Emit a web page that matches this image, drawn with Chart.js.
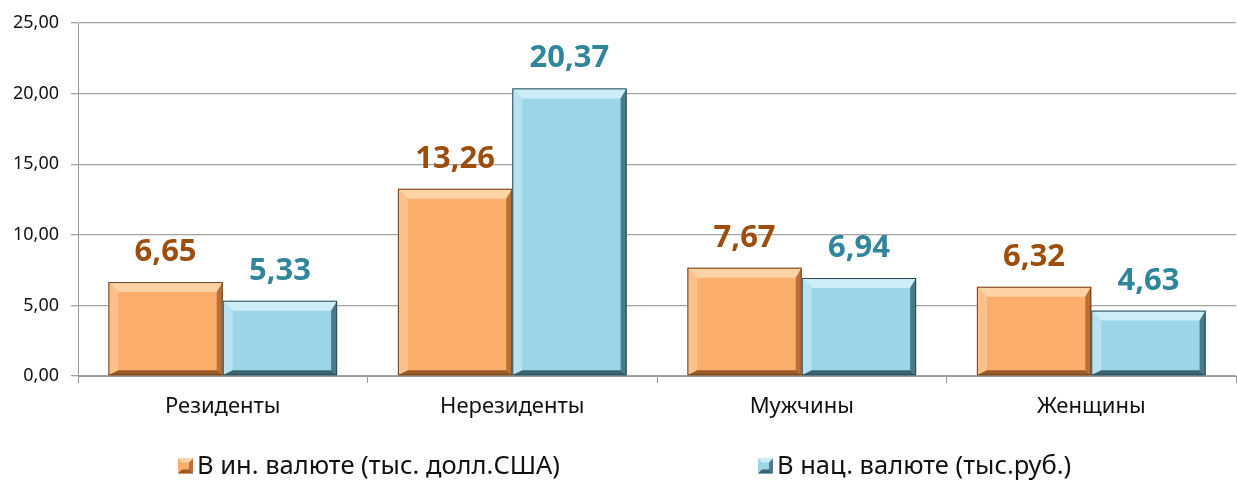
<!DOCTYPE html>
<html><head><meta charset="utf-8">
<script src="https://cdn.jsdelivr.net/npm/chart.js@4.4.1/dist/chart.umd.min.js"></script>
<style>html,body{margin:0;padding:0;background:#fff}#wrap{width:1237px;height:481px;position:relative}</style>
</head><body><div id="wrap"><canvas id="c"></canvas></div>
<script>
const categories = ["Резиденты", "Нерезиденты", "Мужчины", "Женщины"];
const seriesNames = ["В ин. валюте (тыс. долл.США)", "В нац. валюте (тыс.руб.)"];
const foreignValues = [6.65, 13.26, 7.67, 6.32];
const nationalValues = [5.33, 20.37, 6.94, 4.63];
const yTicks = [0, 5, 10, 15, 20, 25];

const FONT = "'Noto Sans', 'DejaVu Sans', sans-serif";
const fmt = v => v.toFixed(2).replace('.', ',');

const palettes = [
  {face:'#fbae6c', light:'#fdd3a6', lightSide:'#fcc08a', dark:'#b87038', darker:'#9a5a26', edge:'#6e4420', label:'#9e4e0c'},
  {face:'#9dd5e8', light:'#cdeef8', lightSide:'#b6e2f1', dark:'#4a7a8a', darker:'#3a6370', edge:'#2b4a55', label:'#31869b'}
];

const bevelPlugin = {
  id:'bevel',
  afterDatasetsDraw(chart){
    const ctx = chart.ctx;
    chart.data.datasets.forEach((ds, di) => {
      const p = palettes[di];
      chart.getDatasetMeta(di).data.forEach(el => {
        const w = el.width, x0 = el.x - w/2, x1 = el.x + w/2, y0 = el.y, y1 = el.base;
        const b = Math.min(10, (y1-y0)/3), br = 6, bb = 5;
        ctx.save();
        ctx.fillStyle = p.light;
        ctx.beginPath(); ctx.moveTo(x0,y0); ctx.lineTo(x1,y0); ctx.lineTo(x1-br,y0+b); ctx.lineTo(x0+b,y0+b); ctx.closePath(); ctx.fill();
        ctx.fillStyle = p.lightSide;
        ctx.beginPath(); ctx.moveTo(x0,y0); ctx.lineTo(x0+b,y0+b); ctx.lineTo(x0+b,y1-bb); ctx.lineTo(x0,y1); ctx.closePath(); ctx.fill();
        ctx.fillStyle = p.dark;
        ctx.beginPath(); ctx.moveTo(x1,y0); ctx.lineTo(x1,y1); ctx.lineTo(x1-br,y1-bb); ctx.lineTo(x1-br,y0+b); ctx.closePath(); ctx.fill();
        ctx.fillStyle = p.darker;
        ctx.beginPath(); ctx.moveTo(x0,y1); ctx.lineTo(x1,y1); ctx.lineTo(x1-br,y1-bb); ctx.lineTo(x0+b,y1-bb); ctx.closePath(); ctx.fill();
        ctx.strokeStyle = p.edge; ctx.lineWidth = 1;
        ctx.strokeRect(x0+0.5, y0+0.5, w-1, y1-y0-1);
        ctx.restore();
      });
    });
  }
};

const labelPlugin = {
  id:'valueLabels',
  afterDatasetsDraw(chart){
    const ctx = chart.ctx;
    ctx.save();
    ctx.font = "bold 31px " + FONT;
    ctx.textAlign = 'center';
    ctx.textBaseline = 'alphabetic';
    chart.data.datasets.forEach((ds, di) => {
      ctx.fillStyle = palettes[di].label;
      chart.getDatasetMeta(di).data.forEach((el, i) => {
        ctx.fillText(fmt(ds.data[i]), el.x, el.y - 21);
      });
    });
    ctx.restore();
  }
};

const legendPlugin = {
  id:'customLegend',
  afterDraw(chart){
    const ctx = chart.ctx;
    const xs = [178, 758];
    const y = 466;
    ctx.save();
    ctx.font = "25.5px " + FONT;
    ctx.textBaseline = 'middle';
    ctx.textAlign = 'left';
    seriesNames.forEach((name, i) => {
      const p = palettes[i];
      const x = xs[i], s = 15, b = 4;
      ctx.fillStyle = p.face; ctx.fillRect(x, y-s/2, s, s);
      ctx.fillStyle = p.light;
      ctx.beginPath(); ctx.moveTo(x,y-s/2); ctx.lineTo(x+s,y-s/2); ctx.lineTo(x+s-b,y-s/2+b); ctx.lineTo(x+b,y-s/2+b); ctx.closePath(); ctx.fill();
      ctx.fillStyle = p.dark;
      ctx.beginPath(); ctx.moveTo(x+s,y-s/2); ctx.lineTo(x+s,y+s/2); ctx.lineTo(x+s-b,y+s/2-b); ctx.lineTo(x+s-b,y-s/2+b); ctx.closePath(); ctx.fill();
      ctx.fillStyle = p.darker;
      ctx.beginPath(); ctx.moveTo(x,y+s/2); ctx.lineTo(x+s,y+s/2); ctx.lineTo(x+s-b,y+s/2-b); ctx.lineTo(x+b,y+s/2-b); ctx.closePath(); ctx.fill();
      ctx.fillStyle = '#111';
      ctx.fillText(name, x + s + 4, y + 1);
    });
    ctx.restore();
  }
};

new Chart(document.getElementById('c'), {
  type:'bar',
  data:{
    labels: categories,
    datasets:[
      {label: seriesNames[0], data: foreignValues, backgroundColor: palettes[0].face, borderWidth:0},
      {label: seriesNames[1], data: nationalValues, backgroundColor: palettes[1].face, borderWidth:0}
    ]
  },
  options:{
    responsive:true, maintainAspectRatio:false, animation:false,
    layout:{padding:{top:23, right:1, bottom:50, left:0}},
    plugins:{legend:{display:false}, tooltip:{enabled:false}},
    datasets:{bar:{categoryPercentage:0.79, barPercentage:1}},
    scales:{
      x:{
        grid:{offset:true, drawOnChartArea:false, drawTicks:true, tickLength:7, color:'#9a9a9a'},
        border:{color:'#9a9a9a', width:1},
        ticks:{color:'#111', font:{family:FONT, size:22}, padding:11},
        afterFit(s){ s.height = 55; }
      },
      y:{
        min:0, max:25,
        afterBuildTicks(s){ s.ticks = yTicks.map(v => ({value:v})); },
        grid:{color:'#a3a3a3', drawTicks:true, tickLength:7, lineWidth:1.3},
        border:{color:'#9a9a9a', width:1},
        ticks:{color:'#111', font:{family:FONT, size:18}, padding:12, callback:v => fmt(v)},
        afterFit(s){ s.width = 78; }
      }
    }
  },
  plugins:[bevelPlugin, labelPlugin, legendPlugin]
});
</script></body></html>
